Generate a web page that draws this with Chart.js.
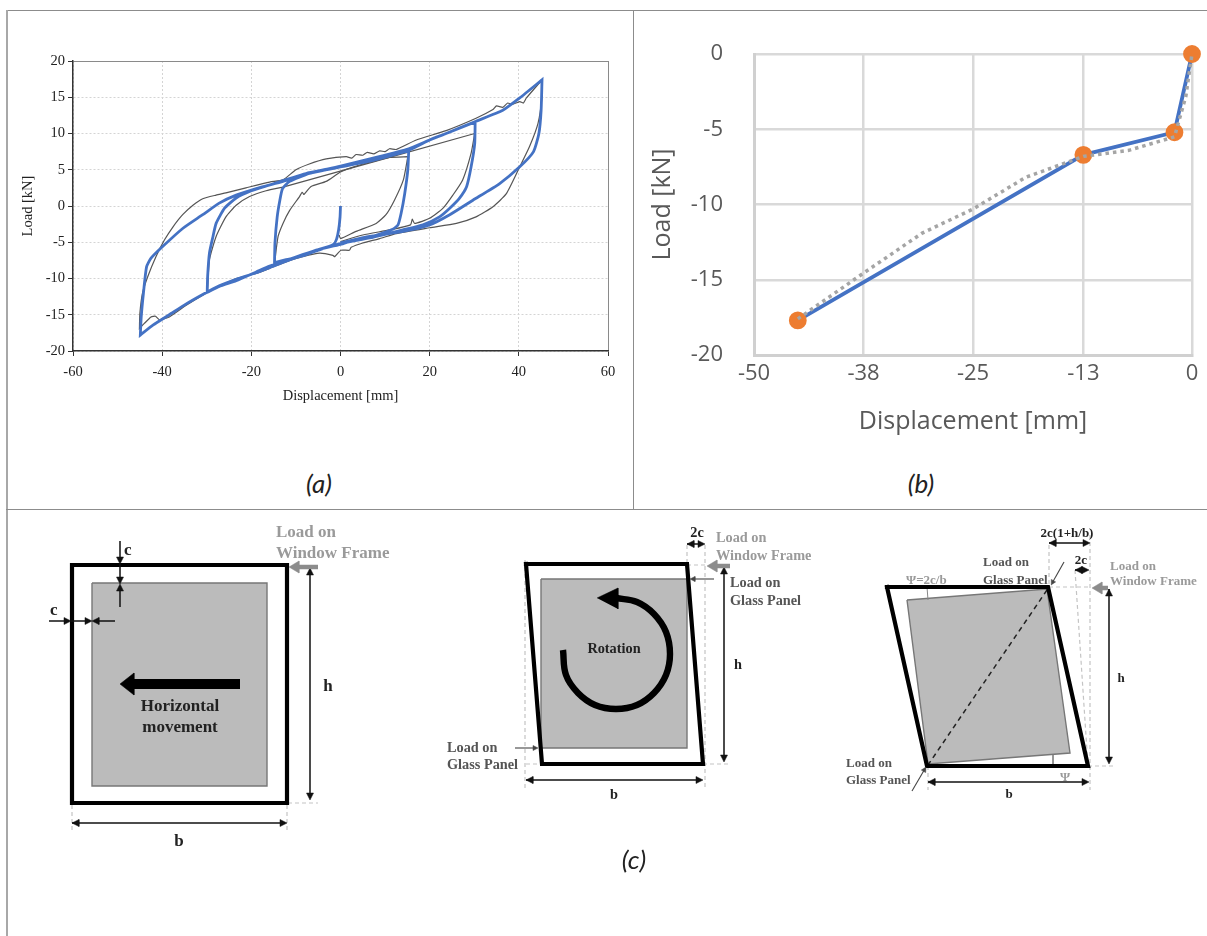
<!DOCTYPE html>
<html>
<head>
<meta charset="utf-8">
<script src="https://cdn.jsdelivr.net/npm/chart.js@4/dist/chart.umd.js"></script>
<style>
  html, body { margin: 0; padding: 0; background: #fff; }
  body { position: relative; width: 1207px; height: 936px; overflow: hidden; }
  .box { position: absolute; }
  .box canvas { filter: blur(.45px); }
  .rule { position: absolute; background: #8c8c8c; }
  .cap { position: absolute; font: italic 26px Lato, sans-serif; color: #222; transform: translateX(-50%); }
  .lbl { position: absolute; font: bold 14.3px "Liberation Serif", serif; color: #222; white-space: nowrap; line-height: 1; transform: translateY(-50%); filter: blur(.35px); }
  .mid { transform: translate(-50%, -50%); }
  .grey { color: #9a9a9a; }
  .dim { color: #555; }
  .big { font-size: 17px; }
  .small { font-size: 13px; }
</style>
</head>
<body>
<div class="rule" style="left:6px;top:10px;width:1201px;height:1px"></div>
<div class="rule" style="left:6px;top:10px;width:2px;height:926px;background:#a8a8a8"></div>
<div class="rule" style="left:633px;top:10px;width:1px;height:500px"></div>
<div class="rule" style="left:6px;top:509px;width:1201px;height:1px"></div>

<div class="box" style="left:10px;top:40px;width:620px;height:380px"><canvas id="chartA"></canvas></div>
<div class="box" style="left:640px;top:30px;width:567px;height:410px"><canvas id="chartB"></canvas></div>
<div class="box" style="left:9px;top:510px;width:1198px;height:426px"><canvas id="sketch"></canvas></div>

<div class="cap" style="left:319px;top:467px">(a)</div>
<div class="cap" style="left:921px;top:467px">(b)</div>
<div class="cap" style="left:634px;top:843px">(c)</div>

<div id="labels"></div>

<script>
// (a) hysteresis, measured curve and model curve
const ticksA_x = [-60, -40, -20, 0, 20, 40, 60];
const ticksA_y = [-20, -15, -10, -5, 0, 5, 10, 15, 20];

// turning points are listed twice so the smoothing keeps them sharp
const blueDisp = [0, -0.1, -0.4, -0.9, -1.6, -5, -8.5, -12.2, -14.8, -14.8,
  -14.7, -14.2, -13.6, -13, -11.4, -7, -3, 0, 4, 7.3, 11, 15.3, 15.3,
  15.1, 14.4, 13.6, 12.9, 11.7, 6.5, 3, 0, -5, -8.5, -12.2, -15.9, -18.9, -23.4, -27.2, -29.9, -29.9,
  -29.8, -29.4, -28.6, -27.9, -26, -23.4, -20.4, -15.9, -12.9, -7, -3, 0, 7.3, 15.3, 20, 23.7, 30.2, 30.2,
  30.1, 29.3, 28.3, 26.7, 24.5, 22.2, 18.5, 14, 10, 6.5, 0, -5, -8.5, -12.2, -15.9, -18.9, -23.4, -27.2, -30.9, -34.6, -38.4, -42, -44.9, -44.9,
  -44.7, -44.2, -43.5, -42.5, -39.9, -35.4, -30.9, -27.2, -23.4, -18.9, -12.9, -7, 0, 7.3, 15.3, 20, 23.7, 30.4, 36.4, 40.2, 45.2, 45.2,
  45, 44.5, 43.3, 40.2, 35.7, 29.7, 24.5, 20, 14, 6.5, 0];
const blueLoad = [0, -1.5, -3.2, -4.6, -5.3, -6.1, -6.9, -7.4, -7.8, -7.8,
  -5.1, -1.5, 0.8, 2.4, 3.4, 4.5, 5, 5.4, 5.9, 6.4, 7, 7.6, 7.6,
  5, 1.7, -1, -2.6, -3.2, -4.3, -4.7, -5.3, -6, -6.7, -7.5, -8.3, -9.1, -10.3, -11.1, -11.9, -11.9,
  -9.7, -6.5, -4.2, -2.4, -0.3, 1.1, 2, 2.9, 3.5, 4.6, 5.1, 5.5, 6.6, 7.9, 9.1, 10, 11.6, 11.6,
  8.6, 5.4, 2.7, 1.1, -0.3, -1.5, -2.6, -3.3, -3.9, -4.4, -5.2, -6, -6.8, -7.6, -8.5, -9.2, -10.1, -11, -12.2, -13.5, -15, -16.4, -17.8, -17.8,
  -15.3, -12, -8.4, -7.2, -5.6, -3.1, -1.2, 0.4, 1.5, 2.4, 3.4, 4.5, 5.4, 6.3, 7.7, 9.1, 10, 11.7, 13.2, 14.9, 17.4, 17.4,
  13.2, 10, 7.5, 5.4, 3.1, 0.8, -1.2, -2.6, -3.5, -4.2, -5.1];

const greyDisp = [45.2, 45.2, 44.3, 42.4, 40.2, 37.2, 34.2, 30.4, 26, 20, 12.5, 8.8, 5, 2.4, 2, 0.1, -1.3, -1.7, -4.7, -8.5, -12.2, -15.9, -18.9, -23.4, -27.2, -30.9, -34.6, -38.4, -40.6, -41.5, -42.5, -44, -45.1, -45.1,
  -45, -44.4, -43.2, -41.4, -39.5, -37.6, -35.4, -33.1, -30.9, -27.9, -25.7, -21.2, -15.9, -12.9, -10, -7, -3.2, 1.3, 2.5, 3.5, 5, 6, 7.5, 8.8, 10, 11, 12.5, 17, 23.7, 30.4, 34.2, 35, 36.4, 37.5, 38.5, 40.2, 41, 41.7, 45.2];
const greyLoad = [17.4, 15.1, 11.4, 8.2, 5.4, 1.7, -0.1, -1.5, -2.4, -3, -3.8, -4.5, -5.1, -5.7, -6.1, -6.1, -7, -6.8, -6.5, -7, -7.7, -8.6, -9.3, -10, -11.1, -12.3, -13.7, -15.3, -15.7, -15.2, -15.3, -16.2, -16.9, -16.9,
  -14.8, -12, -9.7, -7, -4.7, -2.9, -1.2, 0.1, 1, 1.5, 1.8, 2.5, 3.3, 3.6, 5, 5.8, 6.5, 6.8, 6.6, 7.1, 7, 7.4, 7.2, 7.6, 7.5, 7.9, 7.8, 9.1, 10.4, 12.1, 13.3, 13.8, 13.6, 14.2, 14, 14.4, 14.2, 14.9, 17.4];

const greyInnerDisp = [-14.7, -14, -12.9, -11.4, -9.2, -8.6, -8.2, -6.6, -3.2, 0, 3, 7, 11, 15.1, 15.1,
  14.1, 12.1, 10.2, 8, 3.5, 0, -0.3];
const greyInnerLoad = [-7.4, -4.2, -2.4, -0.6, 1.3, 1.9, 1.6, 2.7, 3.4, 4.7, 5.4, 6.1, 6.7, 6.8, 6.8,
  3.6, 0.8, -1.2, -2.4, -3.5, -4.5, -4];

const greyMidDisp = [-29.9, -29.8, -29.4, -27.9, -25.7, -23.4, -20.4, -16.7, -12.9, -12.9,
  30.1, 30.1, 29.3, 27.4, 25.2, 23, 20, 16.6, 16.1, 15.7, 11, 5, 0];
const greyMidLoad = [-11.8, -11.1, -7.4, -4.2, -1.5, 0.1, 1.3, 2.1, 2.6, 2.6,
  10, 10, 7.3, 3.6, 1.5, -0.3, -1.7, -2.4, -1.8, -2.6, -3.3, -4, -4.9];

// (b) backbone curves
const modelDisp = [-45, -12.4, -2, 0];
const modelLoad = [-17.7, -6.7, -5.2, 0];
const testDisp = [-45, -37.6, -30.8, -25, -19, -12.4, -7.2, -2, -0.7, 0];
const testLoad = [-17.6, -14.6, -11.9, -10.3, -8.2, -6.8, -6.4, -5.5, -2.8, 0];
const ticksB_x = [-50, -37.5, -25, -12.4, 0];
const tickNamesB_x = ['-50', '-38', '-25', '-13', '0'];

// (c) sketches, in page pixels
const frameA = [[72, 565], [287, 565], [287, 803], [72, 803], [72, 565]];
const glassA = [[92, 583], [267, 583], [267, 786], [92, 786], [92, 583]];
const frameB = [[526, 564], [687, 564], [703, 764], [542, 764], [526, 564]];
const glassB = [[541, 579], [687, 579], [687, 748], [541, 748], [541, 579]];
const frameC = [[887, 587], [1048, 587], [1088, 766], [927, 766], [887, 587]];
const glassC = [[907, 600], [1047, 589], [1070, 753], [928, 764], [907, 600]];
const diagC = [[1047, 590], [928, 765]];
const spin = [[563, 650], [566, 675], [578, 693], [595, 705], [616, 709], [637, 705], [654, 693], [666, 675], [670, 654], [666, 632], [654, 614], [637, 602], [616, 598]];
const spinHead = [[597, 598], [618, 588], [618, 609]];

// arrows: [tail, tip, double headed]
const thinBlack = [
  [[120, 541], [120, 564]], [[120, 607], [120, 584]], [[120, 564], [120, 584]],
  [[49, 621], [71, 621]], [[115, 621], [92, 621]], [[71, 621], [92, 621]],
  [[72, 823], [287, 823], true], [[310, 568], [310, 800], true],
  [[687, 544], [705, 544], true], [[724, 567], [724, 762], true], [[526, 780], [703, 780], true],
  [[1049, 543], [1090, 543], true], [[1075, 570], [1089, 570], true], [[1109, 589], [1109, 764], true], [[928, 782], [1089, 782], true]
];
const thinDim = [
  [[714, 579], [690, 579]], [[515, 748], [538, 748]],
  [[1064, 562], [1051, 585]], [[912, 791], [926, 767]]
];
const loadArrows = [
  [[318, 567], [289, 567]], [[730, 566], [707, 566]], [[1108, 588], [1092, 588]]
];
const moveArrow = [[240, 684], [120, 684]];

const dashLines = [
  [[288, 803], [318, 803]], [[72, 805], [72, 833]], [[287, 805], [287, 833]],
  [[525, 560], [525, 790]], [[705, 545], [705, 790]], [[687, 545], [687, 564]],
  [[687, 565], [705, 565]], [[526, 764], [542, 764]], [[703, 764], [730, 764]],
  [[1049, 545], [1049, 587]], [[1090, 535], [1090, 790]], [[1075, 570], [1088, 766]],
  [[1049, 587], [1090, 587]], [[1088, 766], [1113, 766]], [[928, 766], [928, 790]]
];
const psiMarks = [[[927, 587], [928, 600]], [[1053, 755], [1053, 766]]];

const sketchText = [
  ['Load on', 276, 531, 'grey big'], ['Window Frame', 276, 552, 'grey big'],
  ['c', 124, 549, 'big'], ['c', 50, 609, 'big'], ['h', 328, 685, 'mid big'], ['b', 179, 840, 'mid big'],
  ['Horizontal', 180, 705, 'mid big'], ['movement', 180, 726, 'mid big'],
  ['2c', 697, 532, 'mid'], ['Load on', 716, 537, 'grey'], ['Window Frame', 716, 555, 'grey'],
  ['Load on', 730, 582, 'dim'], ['Glass Panel', 730, 600, 'dim'], ['h', 738, 664, 'mid'],
  ['Rotation', 614, 648, 'mid'], ['Load on', 447, 747, 'dim'], ['Glass Panel', 447, 764, 'dim'], ['b', 614, 794, 'mid'],
  ['2c(1+h/b)', 1067, 532, 'mid small'], ['2c', 1081, 559, 'mid small'], ['Load on', 983, 561, 'dim small'], ['Glass Panel', 983, 579, 'dim small'],
  ['Load on', 1110, 565, 'grey small'], ['Window Frame', 1110, 580, 'grey small'], ['Ψ=2c/b', 906, 579, 'grey small'],
  ['h', 1121, 677, 'mid small'], ['Load on', 846, 762, 'dim small'], ['Glass Panel', 846, 779, 'dim small'], ['Ψ', 1065, 776, 'mid grey small'], ['b', 1009, 793, 'mid small']
];

const pairs = (xs, ys) => xs.map((x, i) => ({ x, y: ys[i] }));
const pts = (list) => list.map(([x, y]) => ({ x, y }));

// pins the plot area where the reference has it
function fixedAxis(size) {
  return (scale) => {
    if (scale.isHorizontal()) scale.height = size;
    else scale.width = size;
    scale.paddingTop = scale.paddingBottom = scale.paddingLeft = scale.paddingRight = 0;
  };
}

const SERIF = '"Liberation Serif", serif';
const SANS = '"Open Sans", sans-serif';
const frameEdge = (ctx, limit) => (ctx.tick && ctx.tick.value === limit);

const curve = (xs, ys, color, width, order) => ({
  data: pairs(xs, ys), showLine: true, borderColor: color, borderWidth: width, pointRadius: 0, tension: 0.18, order
});

new Chart(document.getElementById('chartA'), {
  type: 'scatter',
  data: {
    datasets: [
      curve(blueDisp, blueLoad, '#4472c4', 2.8, 1),
      curve(greyDisp, greyLoad, '#555', 1.2, 2),
      curve(greyInnerDisp, greyInnerLoad, '#555', 1.2, 2),
      curve(greyMidDisp, greyMidLoad, '#555', 1.2, 2)
    ]
  },
  options: {
    responsive: true,
    maintainAspectRatio: false,
    animation: false,
    layout: { padding: { top: 21, right: 22, bottom: 0, left: 0 } },
    plugins: { legend: { display: false }, tooltip: { enabled: false } },
    scales: {
      x: {
        min: -60, max: 60,
        afterFit: fixedAxis(69),
        afterBuildTicks: (s) => { s.ticks = ticksA_x.map(value => ({ value })); },
        ticks: { maxRotation: 0, color: '#222', font: { family: SERIF, size: 14.5 }, padding: 7 },
        grid: { color: (c) => frameEdge(c, 60) ? '#8a8a8a' : '#d4d4d4', tickColor: '#333', tickLength: 5 },
        border: { color: '#333', width: 1.5, dash: (c) => frameEdge(c, 60) ? [] : [2, 2] },
        title: { display: true, text: 'Displacement [mm]', color: '#222', font: { family: SERIF, size: 14.5 }, padding: { top: 0, bottom: 15 } }
      },
      y: {
        min: -20, max: 20,
        afterFit: fixedAxis(63),
        afterBuildTicks: (s) => { s.ticks = ticksA_y.map(value => ({ value })); },
        ticks: { color: '#222', font: { family: SERIF, size: 14.5 }, padding: 3 },
        grid: { color: (c) => frameEdge(c, 20) ? '#8a8a8a' : '#d4d4d4', tickColor: '#333', tickLength: 5 },
        border: { color: '#333', width: 1.5, dash: (c) => frameEdge(c, 20) ? [] : [2, 2] },
        title: { display: true, text: 'Load [kN]', color: '#222', font: { family: SERIF, size: 14.5 }, padding: { top: 9, bottom: 0 } }
      }
    }
  }
});

new Chart(document.getElementById('chartB'), {
  type: 'scatter',
  data: {
    datasets: [
      { data: pairs(testDisp, testLoad), showLine: true, borderColor: '#a5a5a5', borderWidth: 3.5, borderDash: [3.5, 4], pointRadius: 0, order: 1, clip: false },
      { data: pairs(modelDisp, modelLoad), showLine: true, borderColor: '#4472c4', borderWidth: 3.8, pointRadius: 7, pointBackgroundColor: '#ed7d31', pointBorderColor: '#ed7d31', order: 2, clip: false }
    ]
  },
  options: {
    responsive: true,
    maintainAspectRatio: false,
    animation: false,
    layout: { padding: { top: 24, right: 15, bottom: 0, left: 0 } },
    plugins: { legend: { display: false }, tooltip: { enabled: false } },
    scales: {
      x: {
        min: -50, max: 0,
        afterFit: fixedAxis(85),
        afterBuildTicks: (s) => { s.ticks = ticksB_x.map(value => ({ value })); },
        ticks: {
          maxRotation: 0, autoSkip: false, color: '#595959', padding: 6,
          font: { family: SANS, size: 22 },
          callback: (v, i) => tickNamesB_x[i]
        },
        grid: { color: '#d9d9d9', lineWidth: 2.5, drawTicks: false },
        border: { color: '#d0d0d0', width: 3 },
        title: { display: true, text: 'Displacement [mm]', color: '#595959', font: { family: SANS, size: 25 }, padding: { top: 0, bottom: 3 } }
      },
      y: {
        min: -20, max: 0,
        afterFit: fixedAxis(114),
        ticks: { stepSize: 5, color: '#595959', padding: 31, font: { family: SANS, size: 22 } },
        grid: { color: '#d9d9d9', lineWidth: 2.5, drawTicks: false },
        border: { color: '#d0d0d0', width: 3 },
        title: { display: true, text: 'Load [kN]', color: '#595959', font: { family: SANS, size: 25 }, padding: { top: 8, bottom: 0 } }
      }
    }
  }
});

// arrow head as a small triangle on the end of a segment
function head(tail, tip, len, half) {
  const dx = tip[0] - tail[0], dy = tip[1] - tail[1];
  const d = Math.hypot(dx, dy) || 1;
  const ux = dx / d, uy = dy / d;
  const bx = tip[0] - ux * len, by = tip[1] - uy * len;
  return [tip, [bx - uy * half, by + ux * half], [bx + uy * half, by - ux * half], tip];
}

// stops a thick shaft under the head so the tip stays sharp
function shaftEnd(tail, tip, back) {
  const d = Math.hypot(tip[0] - tail[0], tip[1] - tail[1]) || 1;
  return [tip[0] - (tip[0] - tail[0]) / d * back, tip[1] - (tip[1] - tail[1]) / d * back];
}

function lineSet(list, color, width, extra) {
  return Object.assign({ data: pts(list), showLine: true, borderColor: color, borderWidth: width, pointRadius: 0, clip: false }, extra);
}
const shapeSet = (list, color) => lineSet(list, color, 0.5, { fill: 'shape', backgroundColor: color });
const frameSet = (list) => lineSet(list, '#000', 4.2, { borderJoinStyle: 'miter', borderCapStyle: 'square' });

function arrowSets(list, color, width, len, half) {
  const out = [];
  list.forEach(([a, b, both]) => {
    out.push(lineSet([a, shaftEnd(a, b, len * 0.7)], color, width));
    out.push(shapeSet(head(a, b, len, half), color));
    if (both) out.push(shapeSet(head(b, a, len, half), color));
  });
  return out;
}

// listed in paint order, first is lowest
const layers = [
  ...dashLines.map(l => lineSet(l, '#c4c4c4', 1.2, { borderDash: [4, 3] })),
  lineSet(glassA, '#777', 1.4, { fill: 'shape', backgroundColor: '#bbbbbb' }),
  lineSet(glassB, '#777', 1.4, { fill: 'shape', backgroundColor: '#bbbbbb' }),
  lineSet(glassC, '#777', 1.4, { fill: 'shape', backgroundColor: '#bbbbbb' }),
  ...psiMarks.map(l => lineSet(l, '#888', 1)),
  lineSet(diagC, '#222', 1.5, { borderDash: [5, 4] }),
  frameSet(frameA),
  frameSet(frameB),
  frameSet(frameC),
  lineSet(spin, '#000', 6.4, { tension: 0.4 }),
  shapeSet(spinHead, '#000'),
  lineSet([moveArrow[0], shaftEnd(moveArrow[0], moveArrow[1], 10)], '#000', 10),
  shapeSet(head(moveArrow[0], moveArrow[1], 14, 11), '#000'),
  ...arrowSets(thinBlack, '#111', 1.5, 7, 3.5),
  ...arrowSets(thinDim, '#444', 1.1, 5, 2.5),
  ...arrowSets(loadArrows, '#8c8c8c', 4.5, 10, 6)
];

new Chart(document.getElementById('sketch'), {
  type: 'scatter',
  data: { datasets: layers.slice().reverse() },
  options: {
    responsive: true,
    maintainAspectRatio: false,
    animation: false,
    layout: { padding: 0 },
    plugins: { legend: { display: false }, tooltip: { enabled: false } },
    scales: {
      x: { display: false, min: 9, max: 1207 },
      y: { display: false, min: 510, max: 936, reverse: true }
    }
  }
});

const holder = document.getElementById('labels');
sketchText.forEach(([text, x, y, cls]) => {
  const el = document.createElement('div');
  el.className = 'lbl ' + cls;
  el.textContent = text;
  el.style.left = x + 'px';
  el.style.top = y + 'px';
  holder.appendChild(el);
});
</script>
</body>
</html>
